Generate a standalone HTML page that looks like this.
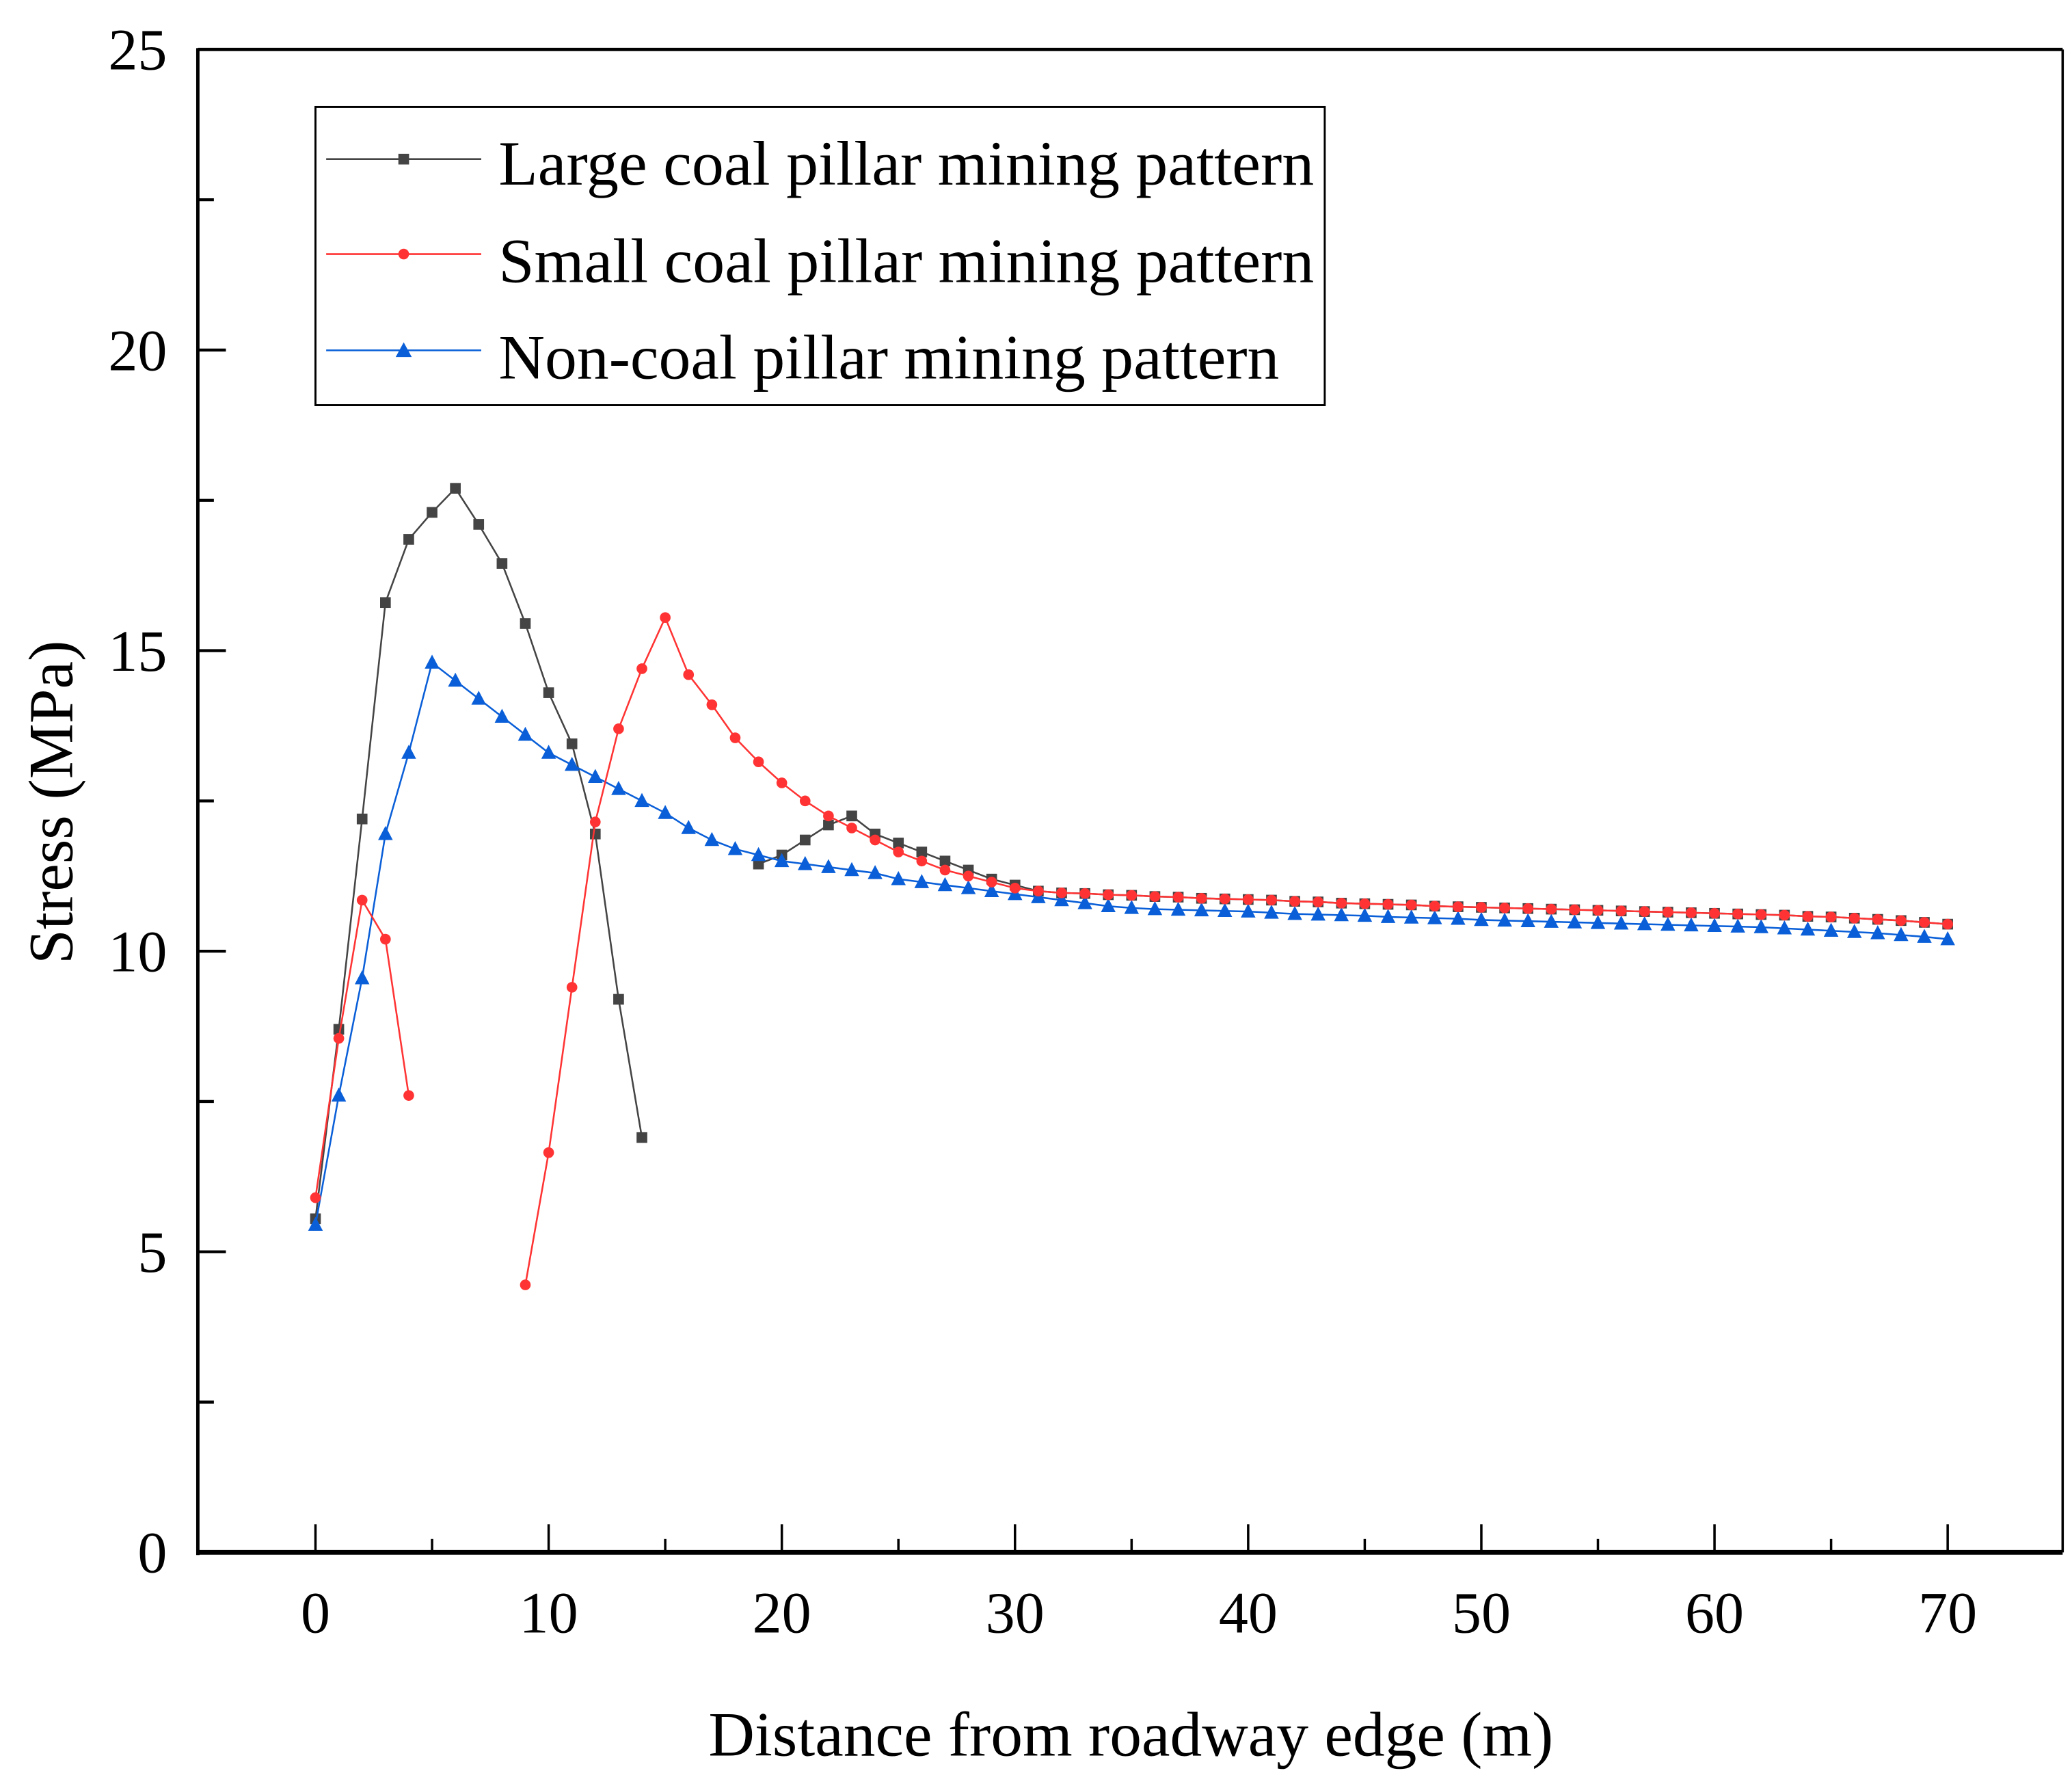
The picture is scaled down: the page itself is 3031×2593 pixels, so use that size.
<!DOCTYPE html>
<html><head><meta charset="utf-8"><style>
html,body{margin:0;padding:0;background:#fff;}
svg{display:block;font-family:"Liberation Serif",serif;}
</style></head><body>
<svg id="chart" width="3031" height="2593" viewBox="0 0 1550 1326" preserveAspectRatio="none" xmlns="http://www.w3.org/2000/svg">
<rect width="1550" height="1326" fill="#fff"/>
<g id="axes"></g>
<g id="series"></g>
<g id="legend">
 <rect x="236" y="80" width="755" height="223" fill="#fff" stroke="#000" stroke-width="1.5"/>
 <line x1="244" y1="119" x2="360" y2="119" stroke="#444" stroke-width="1.3"/>
 <rect x="298" y="115" width="8" height="8" fill="#444"/>
 <text x="373" y="138" font-size="47" textLength="610" lengthAdjust="spacingAndGlyphs">Large coal pillar mining pattern</text>
 <line x1="244" y1="190" x2="360" y2="190" stroke="#f33" stroke-width="1.3"/>
 <circle cx="302" cy="190" r="4" fill="#f33"/>
 <text x="373" y="211" font-size="47" textLength="610" lengthAdjust="spacingAndGlyphs">Small coal pillar mining pattern</text>
 <line x1="244" y1="262" x2="360" y2="262" stroke="#0a5fd8" stroke-width="1.3"/>
 <path d="M302,256 L308,267 L296,267 Z" fill="#0a5fd8"/>
 <text x="373" y="283" font-size="47" textLength="584" lengthAdjust="spacingAndGlyphs">Non-coal pillar mining pattern</text>
</g>
<text transform="translate(54,600) rotate(-90)" text-anchor="middle" font-size="47" textLength="242" lengthAdjust="spacingAndGlyphs">Stress (MPa)</text>
<text x="846" y="1313" text-anchor="middle" font-size="47" textLength="632" lengthAdjust="spacingAndGlyphs">Distance from roadway edge (m)</text>
</svg>
<script>
const xTicks=[0,10,20,30,40,50,60,70];
const yTicks=[0,5,10,15,20,25];
const xs=[];for(let i=0;i<=70;i++)xs.push(i);
const largeY=[5.55,8.7,12.2,15.8,16.85,17.3,17.7,17.1,16.45,15.45,14.3,13.45,11.95,9.2,6.9,null,null,null,null,11.45,11.6,11.85,12.1,12.25,11.95,11.8,11.65,11.5,11.35,11.2,11.1,11.0,10.97,10.96,10.94,10.93,10.91,10.9,10.88,10.87,10.86,10.85,10.83,10.82,10.8,10.79,10.78,10.77,10.75,10.74,10.73,10.72,10.71,10.7,10.69,10.68,10.67,10.66,10.65,10.64,10.63,10.62,10.61,10.6,10.58,10.57,10.55,10.53,10.51,10.48,10.45];
const smallY=[5.9,8.55,10.85,10.2,7.6,null,null,null,null,4.45,6.65,9.4,12.15,13.7,14.7,15.55,14.6,14.1,13.55,13.15,12.8,12.5,12.25,12.05,11.85,11.65,11.5,11.35,11.25,11.15,11.05,11.0,10.97,10.96,10.94,10.93,10.91,10.9,10.88,10.87,10.86,10.85,10.83,10.82,10.8,10.79,10.78,10.77,10.75,10.74,10.73,10.72,10.71,10.7,10.69,10.68,10.67,10.66,10.65,10.64,10.63,10.62,10.61,10.6,10.58,10.57,10.55,10.53,10.51,10.48,10.45];
const nonY=[5.45,7.6,9.55,11.95,13.3,14.8,14.5,14.2,13.9,13.6,13.3,13.1,12.9,12.7,12.5,12.3,12.05,11.85,11.7,11.6,11.5,11.45,11.4,11.35,11.3,11.2,11.15,11.1,11.05,11.0,10.95,10.9,10.85,10.8,10.75,10.72,10.7,10.69,10.68,10.67,10.66,10.64,10.62,10.61,10.6,10.59,10.57,10.56,10.55,10.54,10.52,10.51,10.5,10.49,10.48,10.47,10.46,10.45,10.44,10.43,10.42,10.41,10.4,10.38,10.36,10.34,10.32,10.3,10.27,10.24,10.2];

const NS="http://www.w3.org/2000/svg";
const L=148,R=1543,T=37,B=1161;
const sx=v=>236+v*(1457-236)/70;
const sy=v=>B-v*(B-T)/25;
function mk(tag,attrs,parent){const e=document.createElementNS(NS,tag);for(const k in attrs)e.setAttribute(k,attrs[k]);parent.appendChild(e);return e;}
const ax=document.getElementById('axes');
let e;
e=mk('line',{x1:L,y1:T,x2:R,y2:T,stroke:'#000','stroke-width':2.5},ax);


e=mk('line',{x1:R,y1:T,x2:R,y2:B,stroke:'#000','stroke-width':1.8},ax);


e=mk('line',{x1:L,y1:T-1,x2:L,y2:B+2,stroke:'#000','stroke-width':2.5},ax);


e=mk('line',{x1:L,y1:B,x2:R,y2:B,stroke:'#000','stroke-width':3.5},ax);


xTicks.forEach((v,i)=>{
  const t=mk('line',{x1:sx(v),y1:B,x2:sx(v),y2:B-21,stroke:'#000','stroke-width':1.8},ax);
  
  
  if(i<xTicks.length-1){const m=mk('line',{x1:sx(v+5),y1:B,x2:sx(v+5),y2:B-10,stroke:'#000','stroke-width':1.8},ax);
  
  }
  const tx=mk('text',{x:sx(v),y:1221,'text-anchor':'middle','font-size':44},ax);tx.textContent=v;
  
  
});
yTicks.forEach((v,i)=>{
  const t=mk('line',{x1:L,y1:sy(v),x2:L+21,y2:sy(v),stroke:'#000','stroke-width':2.2},ax);
  
  
  if(i<yTicks.length-1){const m=mk('line',{x1:L,y1:sy(v+2.5),x2:L+12,y2:sy(v+2.5),stroke:'#000','stroke-width':2.2},ax);
  
  }
  const tx=mk('text',{x:125,y:sy(v)+15,'text-anchor':'end','font-size':44},ax);tx.textContent=v;
  
  
});
const sg=document.getElementById('series');
function drawSeries(ys,color,marker,name){
  const g=mk('g',{},sg);
  
  
  let d='',pen=false;
  ys.forEach((y,i)=>{if(y===null){pen=false;return;}d+=(pen?'L':'M')+sx(xs[i]).toFixed(2)+','+sy(y).toFixed(2);pen=true;});
  const p=mk('path',{d:d,fill:'none',stroke:color,'stroke-width':1.3},g);
  
  
  ys.forEach((y,i)=>{if(y===null)return;const cx=sx(xs[i]),cy=sy(y);let m;
    if(marker==='square')m=mk('rect',{x:cx-4,y:cy-4,width:8,height:8,fill:color},g);
    else if(marker==='circle')m=mk('circle',{cx:cx,cy:cy,r:4,fill:color},g);
    else m=mk('path',{d:`M${cx},${cy-6}L${cx+5.5},${cy+4.5}L${cx-5.5},${cy+4.5}Z`,fill:color},g);
    
    
  });
}
drawSeries(largeY,'#444','square','large-pillar-series');
drawSeries(nonY,'#0a5fd8','triangle','non-pillar-series');
drawSeries(smallY,'#f33','circle','small-pillar-series');
</script>
</body></html>
